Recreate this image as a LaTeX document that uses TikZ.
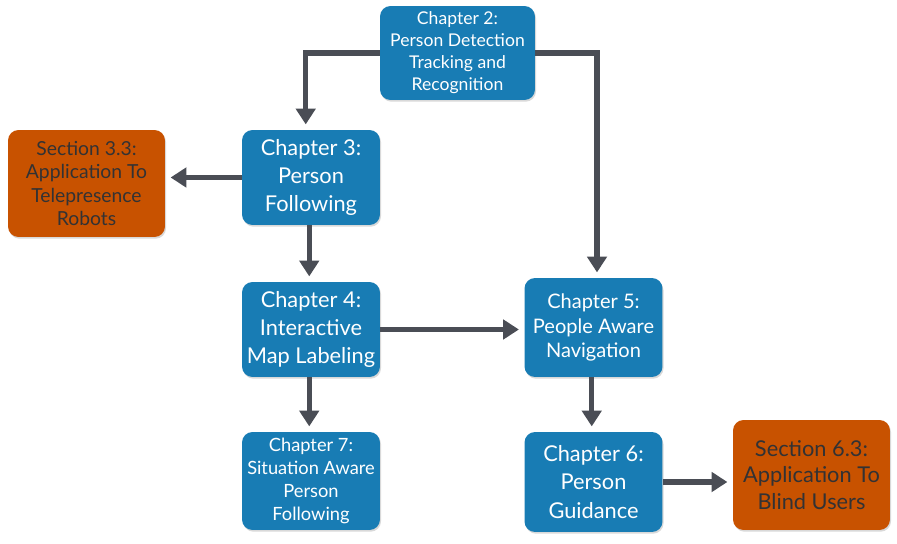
\documentclass[tikz,border=0pt]{standalone}
\usepackage{fontspec}
\setmainfont{Lato}
\usetikzlibrary{arrows.meta, positioning, shadows, calc}
\definecolor{chapblue}{RGB}{24,124,180}
\definecolor{sectorange}{RGB}{200,82,0}
\definecolor{sectgrey}{RGB}{50,50,52}
\definecolor{arrowgrey}{RGB}{74,77,85}

\begin{document}
\begin{tikzpicture}[x=0.02cm, y=-0.02cm,
    box/.style={rounded corners=6pt, fill=chapblue, text=white, align=center,
        minimum width=2.76cm, minimum height=1.9cm, inner sep=2pt,
        font=\fontsize{12.4}{16}\selectfont,
        drop shadow={opacity=0.3, shadow xshift=0.6pt, shadow yshift=-1pt}},
    sect/.style={box, fill=sectorange, text=sectgrey, minimum width=3.14cm},
    flow/.style={draw=arrowgrey, line width=3pt, shorten >=3pt,
        -{Triangle[length=9pt, width=11pt]}}]

    \useasboundingbox (0,0) rectangle (897,544);

    % chapters
    \node[box, minimum width=3.1cm, minimum height=1.88cm,
        font=\fontsize{10}{12.5}\selectfont] (ch2) at (457.5,53)
        {Chapter 2:\\Person Detection\\Tracking and\\Recognition};
    \node[box] (ch3) at (311,177.5) {Chapter 3:\\Person\\Following};
    \node[box] (ch4) at (311,329.5) {Chapter 4:\\Interactive\\Map Labeling};
    \node[box, minimum height=1.98cm, font=\fontsize{11.4}{14.2}\selectfont]
        (ch5) at (593.5,327.5) {Chapter 5:\\People Aware\\Navigation};
    \node[box, minimum height=1.96cm, font=\fontsize{10.4}{13}\selectfont]
        (ch7) at (311,481) {Chapter 7:\\Situation Aware\\Person\\Following};
    \node[box, minimum height=2cm] (ch6) at (593.5,482)
        {Chapter 6:\\Person\\Guidance};

    % sections
    \node[sect, minimum height=2.14cm, font=\fontsize{11}{13.2}\selectfont]
        (s33) at (86.5,183.5) {Section 3.3:\\Application To\\Telepresence\\Robots};
    \node[sect, minimum height=2.2cm, font=\fontsize{12.4}{15.3}\selectfont]
        (s63) at (811.5,475) {Section 6.3:\\Application To\\Blind Users};

    % connectors
    \draw[flow] (ch2.west) -| ([xshift=-3pt]ch3.north);
    \draw[flow] (ch2.east) -| ([xshift=2pt]ch5.north);
    \draw[flow] (ch3.west) -- (ch3.west -| s33.east);
    \draw[flow] (ch4.east) -- (ch4.east -| ch5.west);
    \draw[flow] (ch6.east) -- (ch6.east -| s63.west);
    \foreach \a/\b in {ch3/ch4, ch4/ch7, ch5/ch6}
        \draw[flow] ([xshift=-1pt]\a.south) -- ([xshift=-1pt]\b.north);

\end{tikzpicture}
\end{document}
